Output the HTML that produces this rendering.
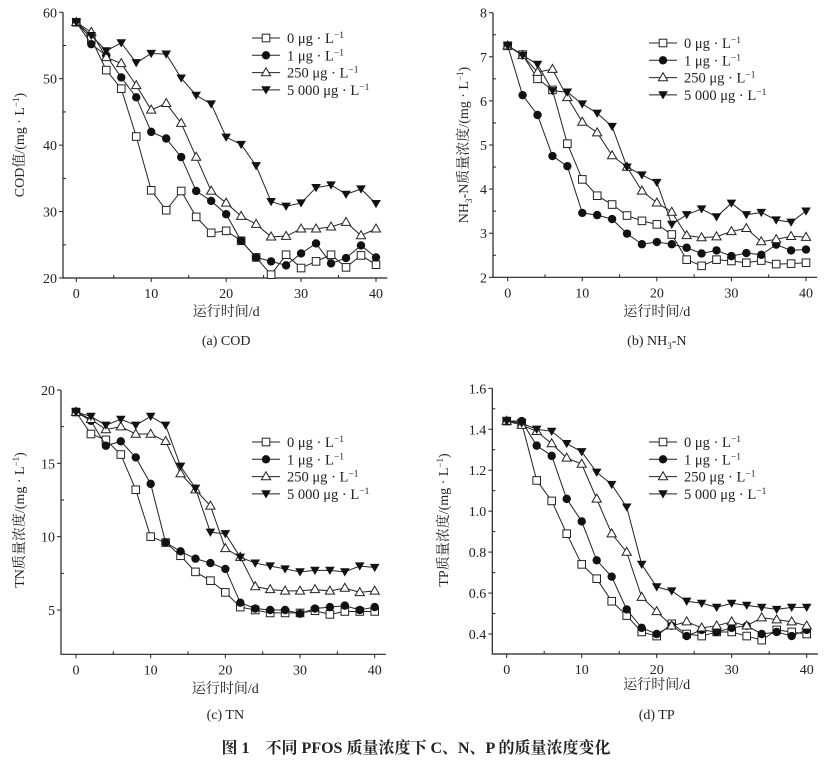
<!DOCTYPE html>
<html><head><meta charset="utf-8"><style>
body{margin:0;background:#fff}
svg text{font-family:"Liberation Serif","Noto Serif CJK SC",serif;fill:#222}
</style></head><body>
<svg id="s" width="832" height="762" xmlns="http://www.w3.org/2000/svg"></svg>
<script>
const S=document.getElementById('s');let h='';
const P=[
{x0:76.3,x40:376,ax:63,yTop:12.3,yBot:278,vTop:60,vBot:20,axBot:278,axMin:20,ticks:[20,30,40,50,60],minor:[25,35,45,55],leg:[252,38],ylab:'COD值/(mg · L<tspan dy="-5" font-size="9">−1</tspan><tspan dy="5">)</tspan>',ylx:24,yly:145,xly:316,cap:'(a) COD',capy:345,
d:[[58.5,56,51.3,48.5,41.3,33.2,30.2,33.1,29.2,26.8,27.1,25.6,23.1,20.5,23.5,21.5,22.5,23.5,21.6,23.4,22],
[58.5,55.2,53.5,50.2,47.2,42,41,38.2,33.1,31.6,29.6,25.6,23.1,22.5,21.9,23.7,25.2,22.2,23,24.9,23.1],
[58.5,57,53.2,52.3,49,45.3,46.3,43.3,38.2,33.1,31.3,29.3,28.1,26.2,26.3,27.4,27.4,27.7,28.4,26.4,27.4],
[58.5,56.5,54.2,55.4,52.4,53.8,53.7,50.1,47.5,46.2,41.2,40.1,36.9,31.5,30.8,31.3,33.6,34,32.6,33.4,31.2]]},
{x0:507.7,x40:806,ax:493,yTop:12.7,yBot:277.3,vTop:8,vBot:2,axBot:277.3,axMin:2,ticks:[2,3,4,5,6,7,8],minor:[2.5,3.5,4.5,5.5,6.5,7.5],leg:[649,43],ylab:'NH<tspan dy="4" font-size="9">3</tspan><tspan dy="-4">-N质量浓度/(mg · L</tspan><tspan dy="-5" font-size="9">−1</tspan><tspan dy="5">)</tspan>',ylx:468,yly:145,xly:316,cap:'(b) NH<tspan dy="4" font-size="9">3</tspan><tspan dy="-4">-N</tspan>',capy:345,
d:[[7.25,7.05,6.5,6.25,5.03,4.22,3.85,3.65,3.4,3.28,3.2,2.97,2.4,2.26,2.4,2.37,2.33,2.38,2.3,2.31,2.33],
[7.25,6.13,5.68,4.75,4.52,3.46,3.41,3.32,2.99,2.75,2.8,2.75,2.67,2.54,2.61,2.48,2.55,2.51,2.74,2.61,2.63],
[7.25,7.03,6.65,6.72,6.08,5.52,5.28,4.76,4.5,3.96,3.69,3.48,2.95,2.9,2.92,3.04,3.11,2.81,2.86,2.93,2.91],
[7.25,7.03,6.83,6.23,6.2,5.93,5.72,5.42,4.5,4.32,4.15,3.2,3.42,3.55,3.37,3.68,3.42,3.47,3.3,3.25,3.5]]},
{x0:76,x40:374.7,ax:61,yTop:390,yBot:610,vTop:20,vBot:5,axBot:654.3,axMin:2,ticks:[5,10,15,20],minor:[7.5,12.5,17.5],leg:[252,442],ylab:'TN质量浓度/(mg · L<tspan dy="-5" font-size="9">−1</tspan><tspan dy="5">)</tspan>',ylx:24,yly:520,xly:693,cap:'(c) TN',capy:719,
d:[[18.5,17,16.6,15.6,13.2,10,9.6,8.7,7.6,7,6.2,5.2,5,4.8,4.8,4.8,4.95,4.7,4.9,4.9,4.9],
[18.5,17.9,16.2,16.5,15.4,13.6,9.6,9,8.5,8.2,7.8,5.5,5.1,5,5,4.75,5.1,5.2,5.3,5,5.2],
[18.5,18,17.3,17.5,17,17,16.5,14.3,13.2,12.1,9.2,8.6,6.6,6.4,6.3,6.3,6.4,6.3,6.5,6.2,6.3],
[18.5,18.2,17.6,18,17.6,18.2,17.6,14.8,13.3,10.3,10.2,8.6,8.2,8,7.8,7.6,7.7,7.7,7.6,8,7.9]]},
{x0:506.7,x40:806.7,ax:492.3,yTop:388.3,yBot:634,vTop:1.6,vBot:0.4,axBot:654,axMin:0.3,ticks:[0.4,0.6,0.8,1.0,1.2,1.4,1.6],minor:[0.5,0.7,0.9,1.1,1.3,1.5],leg:[649,442],ylab:'TP质量浓度/(mg · L<tspan dy="-5" font-size="9">−1</tspan><tspan dy="5">)</tspan>',ylx:448,yly:520,xly:689,cap:'(d) TP',capy:719,dec:1,
d:[[1.44,1.43,1.15,1.05,0.89,0.74,0.67,0.56,0.49,0.41,0.39,0.45,0.4,0.39,0.41,0.41,0.39,0.37,0.42,0.41,0.4],
[1.44,1.44,1.32,1.27,1.06,0.95,0.76,0.68,0.52,0.43,0.4,0.44,0.39,0.42,0.41,0.43,0.44,0.4,0.41,0.39,0.42],
[1.44,1.42,1.39,1.33,1.26,1.23,1.06,0.89,0.8,0.58,0.51,0.44,0.46,0.43,0.44,0.46,0.44,0.48,0.47,0.46,0.44],
[1.44,1.43,1.4,1.39,1.33,1.29,1.19,1.13,1.02,0.74,0.63,0.61,0.56,0.55,0.53,0.55,0.54,0.53,0.52,0.53,0.53]]}];
function mk(t,x,y){
 if(t==0)return `<rect x="${x-3.8}" y="${y-3.8}" width="7.6" height="7.6" fill="#fff" stroke="#222" stroke-width="1"/>`;
 if(t==1)return `<circle cx="${x}" cy="${y}" r="4.2" fill="#111"/>`;
 if(t==2)return `<polygon points="${x},${y-4.8} ${x-4.6},${y+3.2} ${x+4.6},${y+3.2}" fill="#fff" stroke="#222" stroke-width="1"/>`;
 return `<polygon points="${x-4.8},${y-3.6} ${x+4.8},${y-3.6} ${x},${y+4.6}" fill="#111"/>`;}
const labs=['0 μg · L','1 μg · L','250 μg · L','5 000 μg · L'];
for(const p of P){
 const X=v=>p.x0+(p.x40-p.x0)*v/40, Y=v=>p.yBot+(p.yTop-p.yBot)*(v-p.vBot)/(p.vTop-p.vBot);
 const xr=X(41.5);
 h+=`<path d="M${p.ax} ${Y(p.vTop)}V${p.axBot}H${xr}" fill="none" stroke="#222" stroke-width="1.2"/>`;
 for(const t of p.ticks){const y=Y(t);h+=`<line x1="${p.ax-4}" x2="${p.ax}" y1="${y}" y2="${y}" stroke="#222"/><text x="${p.ax-6}" y="${y+5}" font-size="14" text-anchor="end">${p.dec?t.toFixed(1):t}</text>`;}
 for(const t of p.minor){const y=Y(t);h+=`<line x1="${p.ax}" x2="${p.ax+3}" y1="${y}" y2="${y}" stroke="#222"/>`;}
 for(let v=0;v<=40;v+=5){const x=X(v);h+=`<line x1="${x}" x2="${x}" y1="${p.axBot}" y2="${p.axBot+(v%10?-3:4)}" stroke="#222"/>`;if(v%10==0)h+=`<text x="${x}" y="${p.axBot+20}" font-size="14" text-anchor="middle">${v}</text>`;}
 p.d.forEach((s,k)=>{h+=`<polyline points="${s.map((v,i)=>X(i*2)+','+Y(v)).join(' ')}" fill="none" stroke="#222" stroke-width="1"/>`;s.forEach((v,i)=>h+=mk(k,X(i*2),Y(v)));});
 labs.forEach((l,k)=>{const y=p.leg[1]+k*17.3;h+=`<line x1="${p.leg[0]}" x2="${p.leg[0]+28}" y1="${y}" y2="${y}" stroke="#222"/>`+mk(k,p.leg[0]+14,y)+`<text x="${p.leg[0]+35}" y="${y+5}" font-size="14.5">${l}<tspan dy="-5" font-size="9.5">−1</tspan></text>`;});
 h+=`<text transform="translate(${p.ylx},${p.yly}) rotate(-90)" font-size="14" text-anchor="middle">${p.ylab}</text>`;
 const cx=(X(0)+X(40))/2;
 h+=`<text x="${cx}" y="${p.xly}" font-size="14" text-anchor="middle">运行时间/d</text>`;
 h+=`<text x="${cx}" y="${p.capy}" font-size="14" text-anchor="middle">${p.cap}</text>`;
}
h+=`<text x="416" y="753" font-size="16" font-weight="bold" text-anchor="middle" style="font-family:'Liberation Serif','Noto Serif CJK SC',serif">图 1　不同 PFOS 质量浓度下 C、N、P 的质量浓度变化</text>`;
S.innerHTML=h;
</script>
</body></html>
